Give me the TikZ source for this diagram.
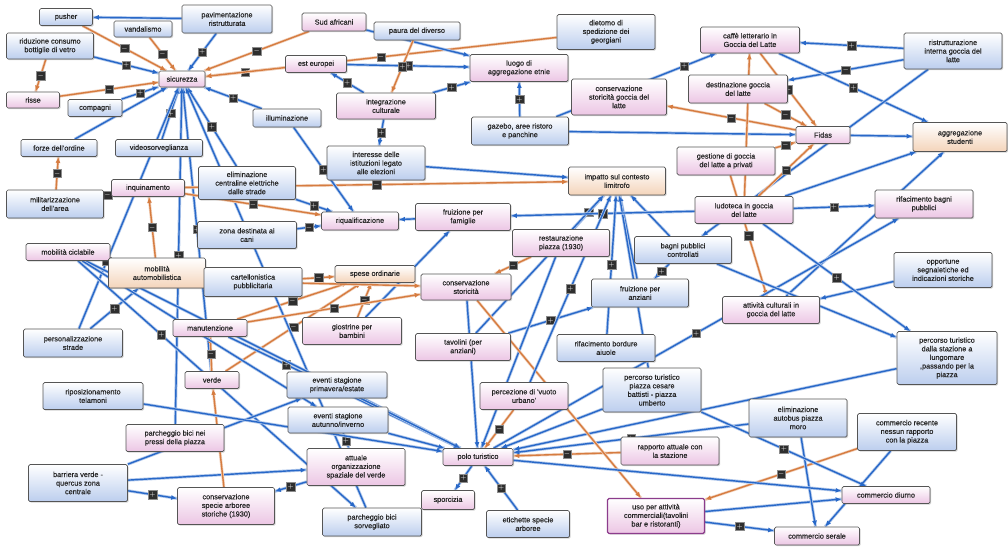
\documentclass[tikz,border=0pt]{standalone}
\usepackage{fontspec}
\setmainfont{Liberation Sans}
\newfontfamily\boxfont{Liberation Sans}[FakeBold=0.4]
\usetikzlibrary{arrows.meta,shadows,backgrounds}
\definecolor{bbot}{RGB}{188,206,238}
\definecolor{pbot}{RGB}{236,198,228}
\definecolor{obot}{RGB}{244,212,186}
\definecolor{bord}{RGB}{85,85,85}
\definecolor{eblue}{RGB}{40,104,200}
\definecolor{eor}{RGB}{214,124,64}
\definecolor{purp}{RGB}{140,60,140}
\tikzset{
 box/.style={draw=bord, line width=0.7pt, rounded corners=1.5pt, align=center, inner sep=1pt,
   text=black!85, font=\boxfont\fontsize{7.3}{8.6}\selectfont,
   drop shadow={shadow xshift=1.2pt,shadow yshift=-1.2pt,opacity=0.35}},
 bb/.style={box, top color=white, bottom color=bbot},
 pb/.style={box, top color=white, bottom color=pbot},
 ob/.style={box, top color=white, bottom color=obot},
 be/.style={draw=eblue, line width=1.4pt, -{Latex[length=6pt,width=5pt]},
   preaction={draw=eblue!35, line width=3pt, arrows=-}},
 oe/.style={draw=eor, line width=1.4pt, -{Latex[length=6pt,width=5pt]},
   preaction={draw=eor!35, line width=2.8pt, arrows=-}},
 sq/.style={fill=black!82, draw=black!45, line width=0.3pt, text=white, inner sep=0pt,
   minimum size=8.5pt, font=\fontsize{7}{7}\selectfont}
}
\newcommand\BX[6]{\node[#1, minimum width=#4pt, minimum height=#5pt] (#2) at (#3) {#6};}
\newcommand\EB[4][pos=0.5]{\draw[be] (#2) -- node[sq,#1]{$#4$} (#3);}
\newcommand\EO[4][pos=0.5]{\draw[oe] (#2) -- node[sq,#1]{$#4$} (#3);}
\newcommand\NB[2]{\draw[be] (#1) -- (#2);}
\newcommand\NO[2]{\draw[oe] (#1) -- (#2);}
\begin{document}
\begin{tikzpicture}[x=1pt,y=-1pt]
\useasboundingbox (0,0) rectangle (1008,549);
\BX{bb}{pusher}{66,17}{53}{17}{pusher}
\BX{bb}{vand}{143,29}{58}{16}{vandalismo}
\BX{bb}{pavim}{227,19}{90}{28}{pavimentazione\\ristrutturata}
\BX{pb}{sudaf}{334,22}{64}{18}{Sud africani}
\BX{bb}{paura}{417,31}{86}{18}{paura del diverso}
\BX{bb}{diet}{606,32}{98}{35}{dietomo di\\spedizione dei\\georgiani}
\BX{bb}{riduz}{50,46}{87}{26}{riduzione consumo\\bottiglie di vetro}
\BX{pb}{sic}{182,79}{46}{16}{sicurezza}
\BX{pb}{esteu}{316,64}{61}{17}{est europei}
\BX{pb}{luogo}{519,68}{98}{27}{luogo di\\aggregazione etnie}
\BX{pb}{caffe}{750,40}{99}{26}{caffè letterario in\\Goccia del Latte}
\BX{bb}{ristr}{953,51}{98}{36}{ristrutturazione\\interna goccia del\\latte}
\BX{pb}{risse}{33,100}{53}{16}{risse}
\BX{pb}{consgoc}{619,97}{95}{36}{conservazione\\storicità goccia del\\latte}
\BX{pb}{dest}{738,89}{99}{28}{destinazione goccia\\del latte}
\BX{bb}{comp}{95,108}{54}{17}{compagni}
\BX{pb}{integr}{386,106}{99}{26}{integrazione\\culturale}
\BX{bb}{gazebo}{520,131}{97}{28}{gazebo, aree ristoro\\e panchine}
\BX{bb}{illum}{287,118}{68}{18}{illuminazione}
\BX{pb}{fidas}{823,135}{54}{17}{Fidas}
\BX{ob}{aggst}{960,137}{94}{29}{aggregazione\\studenti}
\BX{bb}{forze}{59,148}{76}{17}{forze dell'ordine}
\BX{bb}{video}{159,148}{87}{17}{videosorveglianza}
\BX{bb}{inter}{376,163}{98}{34}{interesse delle\\istituzioni legato\\alle elezioni}
\BX{pb}{gest}{726,161}{98}{28}{gestione di goccia\\del latte a privati}
\BX{bb}{milit}{55,204}{97}{28}{militarizzazione\\dell'area}
\BX{bb}{elimc}{247,183}{97}{33}{eliminazione\\centraline elettriche\\dalle strade}
\BX{pb}{inquin}{148,188}{73}{17}{inquinamento}
\BX{ob}{impatto}{617,181}{97}{28}{impatto sul contesto\\limitrofo}
\BX{pb}{ludo}{744,210}{98}{27}{ludoteca in goccia\\del latte}
\BX{pb}{rifbagni}{924,204}{98}{28}{rifacimento bagni\\pubblici}
\BX{bb}{cani}{247,235}{99}{27}{zona destinata ai\\cani}
\BX{pb}{riqual}{360,221}{77}{18}{riqualificazione}
\BX{pb}{famig}{463,217}{95}{27}{fruizione per\\famiglie}
\BX{pb}{ciclab}{68,252}{84}{17}{mobilità ciclabile}
\BX{pb}{restaur}{561,243}{97}{27}{restaurazione\\piazza (1930)}
\BX{bb}{bagnic}{683,250}{97}{27}{bagni pubblici\\controllati}
\BX{ob}{auto}{157,273}{97}{30}{mobilità\\automobilistica}
\BX{bb}{cart}{253,282}{98}{29}{cartellonistica\\pubblicitaria}
\BX{ob}{spese}{375,274}{80}{17}{spese ordinarie}
\BX{pb}{conss}{466,287}{90}{26}{conservazione\\storicità}
\BX{bb}{anziani}{640,293}{97}{28}{fruizione per\\anziani}
\BX{pb}{attcult}{771,310}{97}{27}{attività culturali in\\goccia del latte}
\BX{bb}{opport}{943,270}{98}{35}{opportune\\segnaletiche ed\\indicazioni storiche}
\BX{bb}{person}{73,343}{99}{28}{personalizzazione\\strade}
\BX{pb}{manut}{210,328}{74}{17}{manutenzione}
\BX{pb}{giostr}{352,331}{99}{27}{giostrine per\\bambini}
\BX{pb}{tavol}{463,347}{95}{27}{tavolini (per\\anziani)}
\BX{bb}{bordure}{606,348}{98}{27}{rifacimento bordure\\aiuole}
\BX{bb}{perstaz}{947,358}{100}{53}{percorso turistico\\dalla stazione a\\lungomare\\,passando per la\\piazza}
\BX{bb}{ripos}{93,396}{100}{27}{riposizionamento\\telamoni}
\BX{pb}{verde}{212,380}{54}{17}{verde}
\BX{bb}{eventip}{337,385}{100}{26}{eventi stagione\\primavera/estate}
\BX{pb}{vuoto}{524,396}{88}{27}{percezione di 'vuoto\\urbano'}
\BX{bb}{perspiaz}{652,390}{98}{44}{percorso turistico\\piazza cesare\\battisti - piazza\\umberto}
\BX{bb}{elimbus}{798,418}{98}{38}{eliminazione\\autobus piazza\\moro}
\BX{bb}{commrec}{907,432}{99}{37}{commercio recente\\nessun rapporto\\con la piazza}
\BX{bb}{eventia}{338,420}{100}{26}{eventi stagione\\autunno/inverno}
\BX{pb}{parcbici}{175,438}{98}{27}{parcheggio bici nei\\pressi della piazza}
\BX{pb}{polo}{478,457}{70}{17}{polo turistico}
\BX{pb}{rapporto}{670,451}{98}{28}{rapporto attuale con\\la stazione}
\BX{bb}{barriera}{78,483}{99}{37}{barriera verde -\\quercus zona\\centrale}
\BX{pb}{attorg}{356,467}{98}{37}{attuale\\organizzazione\\spaziale del verde}
\BX{pb}{specie}{226,506}{97}{37}{conservazione\\specie arboree\\storiche (1930)}
\BX{pb}{sporc}{448,500}{53}{19}{sporcizia}
\BX{bb}{parcsorv}{372,522}{99}{28}{parcheggio bici\\sorvegliato}
\BX{bb}{etich}{528,524}{83}{27}{etichette specie\\arboree}
\BX{pb,draw=purp,line width=1.2pt}{uso}{656,516}{97}{35}{uso per attività\\commerciali(tavolini\\bar e ristoranti)}
\BX{pb}{commdiur}{886,495}{88}{17}{commercio diurno}
\BX{pb}{commser}{817,536}{85}{18}{commercio serale}
\begin{pgfonlayer}{background}
\fill[white] (0,0) rectangle (1008,549);
\NB{pavim}{pusher}
\EO{pusher}{sic}{-}
\EO{vand}{sic}{-}
\EB{pavim}{sic}{+}
\EB{riduz}{sic}{+}
\EO{riduz}{risse}{-}
\EO{risse}{sic}{-}
\EB{comp}{sic}{+}
\EB{video}{sic}{+}
\EB{illum}{sic}{+}
\EO{sudaf}{sic}{-}
\EO{esteu}{sic}{-}
\EO{diet}{sic}{-}
\NB{sudaf}{luogo}
\EB{esteu}{luogo}{+}
\EB{integr}{luogo}{+}
\EB{gazebo}{luogo}{+}
\EB{integr}{esteu}{+}
\EO{paura}{integr}{+}
\EB{elimc}{sic}{+}
\NB{forze}{sic}
\EB{verde}{sic}{+}
\NB{person}{sic}
\EB{parcbici}{sic}{+}
\EO{milit}{forze}{-}
\EB{ristr}{caffe}{+}
\EB{ristr}{dest}{-}
\EB{caffe}{aggst}{+}
\NB{fidas}{aggst}
\NB{ristr}{bagnic}
\NB{attcult}{aggst}
\NB{gazebo}{fidas}
\EB[pos=0.8]{gazebo}{caffe}{+}
\EO{caffe}{fidas}{-}
\EO{dest}{fidas}{-}
\EO{gest}{fidas}{-}
\EO{ludo}{fidas}{-}
\EO{fidas}{consgoc}{-}
\NO{ludo}{caffe}
\EO{gest}{attcult}{-}
\NB{anziani}{impatto}
\NB{bagnic}{impatto}
\EB{restaur}{impatto}{+}
\NB{tavol}{impatto}
\NB{perspiaz}{impatto}
\EO{inquin}{impatto}{-}
\EB{ludo}{famig}{+}
\EB{elimc}{riqual}{+}
\EB{cani}{riqual}{-}
\NB{famig}{riqual}
\EB{illum}{riqual}{+}
\EO{manut}{spese}{-}
\EO{verde}{spese}{-}
\EO{giostr}{spese}{-}
\EO{cart}{spese}{-}
\EO{restaur}{conss}{-}
\EB{tavol}{anziani}{+}
\EB{bagnic}{anziani}{+}
\EO{rapporto}{polo}{-}
\NB{uso}{commdiur}
\EB{uso}{commser}{+}
\EO{commrec}{uso}{-}
\EB{elimbus}{polo}{+}
\NB{perspiaz}{polo}
\NB{perstaz}{polo}
\NB{opport}{attcult}
\EB{ludo}{rifbagni}{+}
\EB{polo}{rifbagni}{+}
\EB{bagnic}{perstaz}{+}
\EB{barriera}{specie}{+}
\NB{barriera}{attorg}
\EO{verde}{manut}{-}
\EO{specie}{verde}{+}
\EB{attorg}{specie}{+}
\EB{eventia}{attorg}{+}
\NB{eventip}{polo}
\NB{eventia}{polo}
\EB{polo}{sporc}{+}
\EB{etich}{polo}{+}
\EB{auto}{ciclab}{-}
\EB{person}{auto}{+}
\EO{auto}{inquin}{-}
\EO{inquin}{milit}{-}
\EB{giostr}{famig}{+}
\NB{conss}{polo}
\NB{restaur}{polo}
\EB[pos=0.25]{manut}{polo}{+}
\EO{vuoto}{polo}{-}
\EO{conss}{uso}{+}
\NB{parcsorv}{sic}
\NB{inter}{impatto}
\EB{bordure}{impatto}{+}
\NB{ciclab}{polo}
\EO{inquin}{riqual}{-}
\EO{manut}{conss}{-}
\EB{integr}{inter}{+}
\EB[pos=0.3]{ciclab}{parcsorv}{+}
\NB{ciclab}{eventia}
\NB{ludo}{aggst}
\EB{ludo}{perstaz}{+}
\NB{elimbus}{commser}
\NB{polo}{commdiur}
\NB{barriera}{eventip}
\NB{ripos}{polo}
\EB{vuoto}{impatto}{+}
\NB{commrec}{commser}
\EB{perspiaz}{commdiur}{+}
\NO{cart}{conss}
\end{pgfonlayer}
\end{tikzpicture}
\end{document}
